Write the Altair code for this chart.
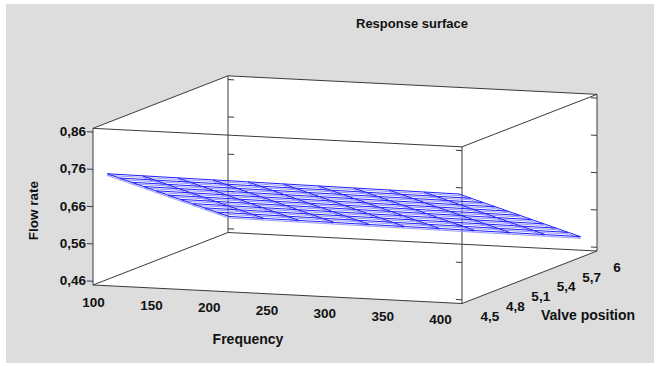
import altair as alt
import pandas as pd

# ---------------- data ----------------
frequency_ticks = [100, 150, 200, 250, 300, 350, 400]
frequency_labels = ["100", "150", "200", "250", "300", "350", "400"]
valve_ticks = [4.5, 4.8, 5.1, 5.4, 5.7, 6.0]
valve_labels = ["4,5", "4,8", "5,1", "5,4", "5,7", "6"]
flow_ticks = [0.46, 0.56, 0.66, 0.76, 0.86]
flow_labels = ["0,46", "0,56", "0,66", "0,76", "0,86"]

# response-surface mesh (rows: valve position, columns: frequency)
freq_grid = [105, 133.6, 162.2, 190.8, 219.4, 248, 276.6, 305.2, 333.8, 362.4, 391]
valve_grid = [4.59, 4.725, 4.86, 4.995, 5.13, 5.265, 5.4, 5.535, 5.67, 5.805, 5.94]
flow_rate = [
    [0.7406, 0.7399, 0.7392, 0.7385, 0.7378, 0.7371, 0.7364, 0.7357, 0.7350, 0.7343, 0.7336],
    [0.7165, 0.7158, 0.7151, 0.7144, 0.7137, 0.7130, 0.7123, 0.7116, 0.7109, 0.7102, 0.7095],
    [0.6924, 0.6917, 0.6910, 0.6903, 0.6896, 0.6889, 0.6882, 0.6875, 0.6868, 0.6861, 0.6854],
    [0.6683, 0.6676, 0.6669, 0.6662, 0.6655, 0.6648, 0.6641, 0.6634, 0.6627, 0.6620, 0.6613],
    [0.6442, 0.6435, 0.6428, 0.6421, 0.6414, 0.6407, 0.6400, 0.6393, 0.6386, 0.6379, 0.6372],
    [0.6201, 0.6194, 0.6187, 0.6180, 0.6173, 0.6166, 0.6159, 0.6152, 0.6145, 0.6138, 0.6131],
    [0.5960, 0.5953, 0.5946, 0.5939, 0.5932, 0.5925, 0.5918, 0.5911, 0.5904, 0.5897, 0.5890],
    [0.5719, 0.5712, 0.5705, 0.5698, 0.5691, 0.5684, 0.5677, 0.5670, 0.5663, 0.5656, 0.5649],
    [0.5478, 0.5471, 0.5464, 0.5457, 0.5450, 0.5443, 0.5436, 0.5429, 0.5422, 0.5415, 0.5408],
    [0.5237, 0.5230, 0.5223, 0.5216, 0.5209, 0.5202, 0.5195, 0.5188, 0.5181, 0.5174, 0.5167],
    [0.4996, 0.4989, 0.4982, 0.4975, 0.4968, 0.4961, 0.4954, 0.4947, 0.4940, 0.4933, 0.4926],
]

FREQ_RANGE = (100, 400)
VALVE_RANGE = (4.5, 6.0)
FLOW_RANGE = (0.45, 0.87)

# ---------------- oblique projection (view) ----------------
ORIGIN = (93.0, 285.0)      # projected position of the box's (100, 4.5, 0.45) corner
E_F = (1.23, 0.0617)        # screen shift per unit of frequency
E_V = (90.0, -35.0)         # screen shift per unit of valve position
E_Z = (0.0, -373.0)         # screen shift per unit of flow rate
LABEL_SHRINK = 0.94


def proj(f, v, z):
    df_, dv, dz = f - FREQ_RANGE[0], v - VALVE_RANGE[0], z - FLOW_RANGE[0]
    return (ORIGIN[0] + E_F[0] * df_ + E_V[0] * dv + E_Z[0] * dz,
            ORIGIN[1] + E_F[1] * df_ + E_V[1] * dv + E_Z[1] * dz)


F0, F1 = FREQ_RANGE
V0, V1 = VALVE_RANGE
Z0, Z1 = FLOW_RANGE

# white faces of the box (the four vertical faces)
face_rows = []
for name, (a, b) in {
    "front": ((F0, V0), (F1, V0)),
    "back": ((F0, V1), (F1, V1)),
    "left": ((F0, V0), (F0, V1)),
    "right": ((F1, V0), (F1, V1)),
}.items():
    for (f, v) in (a, b):
        x, yb = proj(f, v, Z0)
        _, yt = proj(f, v, Z1)
        face_rows.append({"face": name, "x": x, "y": yt, "y2": yb})
faces = pd.DataFrame(face_rows)

# box edges
corners = [(f, v, z) for f in (F0, F1) for v in (V0, V1) for z in (Z0, Z1)]
edge_rows = []
for i, p in enumerate(corners):
    for q in corners[i + 1:]:
        if sum(1 for k in range(3) if p[k] != q[k]) == 1:
            (x1, y1), (x2, y2) = proj(*p), proj(*q)
            edge_rows.append({"x": x1, "y": y1, "x2": x2, "y2": y2})
edges = pd.DataFrame(edge_rows)

# z ticks on the four vertical edges
tick_rows = []
TL = 5.0
for z in flow_ticks:
    for (fa, va, fb) in ((F0 - TL, V0, F0), (F0, V1, F0 + TL), (F1 - TL, V0, F1), (F1 - TL, V1, F1)):
        (x1, y1), (x2, y2) = proj(fa, va, z), proj(fb, va, z)
        tick_rows.append({"x": x1, "y": y1, "x2": x2, "y2": y2})
ticks = pd.DataFrame(tick_rows)

# mesh lines
mesh_rows = []
for i, v in enumerate(valve_grid):
    for j, f in enumerate(freq_grid):
        x, y = proj(f, v, flow_rate[i][j])
        mesh_rows.append({"line": f"v{i}", "o": j, "x": x, "y": y})
for j, f in enumerate(freq_grid):
    for i, v in enumerate(valve_grid):
        x, y = proj(f, v, flow_rate[i][j])
        mesh_rows.append({"line": f"f{j}", "o": i, "x": x, "y": y})
mesh = pd.DataFrame(mesh_rows)

# labels
text_rows = []
for z, lab in zip(flow_ticks, flow_labels):
    x, y = proj(F0, V0, z)
    text_rows.append({"x": x - 7, "y": y, "t": lab, "g": "zt"})
for f, lab in zip(frequency_ticks, frequency_labels):
    x, y = proj(F0 + (f - F0) * LABEL_SHRINK, V0, Z0)
    text_rows.append({"x": x + 0.6, "y": y + 17.7, "t": lab, "g": "ft"})
for v, lab in zip(valve_ticks, valve_labels):
    x, y = proj(F1, V0 + (v - V0) * LABEL_SHRINK, Z0)
    text_rows.append({"x": x + 28, "y": y + 13.5, "t": lab, "g": "vt"})
labels = pd.DataFrame(text_rows)

fx, fy = proj(250, V0, Z0)
vx, vy = proj(F1, V0, Z0)
zx, zy = proj(F0, V0, 0.66)
titles = pd.DataFrame([
    {"x": fx - 29.5, "y": fy + 45.7, "t": "Frequency"},
    {"x": vx + 126, "y": vy + 12.5, "t": "Valve position"},
])
ztitle = pd.DataFrame([{"x": zx - 59, "y": zy + 4, "t": "Flow rate"}])
main_title = pd.DataFrame([{"x": 412, "y": 24, "t": "Response surface"}])

# ---------------- chart ----------------
XS = alt.Scale(domain=[6, 654], nice=False, zero=False)
YS = alt.Scale(domain=[4, 363], nice=False, zero=False, reverse=True)
X = alt.X("x:Q", scale=XS, axis=None)
Y = alt.Y("y:Q", scale=YS, axis=None, stack=None)
FONT = "Liberation Sans"

face_layer = alt.Chart(faces).mark_area(color="white", opacity=1, interpolate="linear").encode(
    x=X, y=Y, y2="y2:Q", detail="face:N")
edge_layer = alt.Chart(edges).mark_rule(color="#3a3a3a", strokeWidth=1).encode(
    x=X, y=Y, x2="x2:Q", y2="y2:Q")
tick_layer = alt.Chart(ticks).mark_rule(color="#3a3a3a", strokeWidth=1).encode(
    x=X, y=Y, x2="x2:Q", y2="y2:Q")
mesh_light = alt.Chart(mesh).mark_line(color="#9a9aff", strokeWidth=1, yOffset=1.6).encode(
    x=X, y=Y, detail="line:N", order="o:Q")
mesh_dark = alt.Chart(mesh).mark_line(color="#2020ff", strokeWidth=1).encode(
    x=X, y=Y, detail="line:N", order="o:Q")

zt = alt.Chart(labels[labels.g == "zt"]).mark_text(
    font=FONT, fontWeight="bold", fontSize=13.5, align="right", baseline="middle", color="#111111"
).encode(x=X, y=Y, text="t:N")
other_ticks = alt.Chart(labels[labels.g != "zt"]).mark_text(
    font=FONT, fontWeight="bold", fontSize=13.5, align="center", baseline="middle", color="#111111"
).encode(x=X, y=Y, text="t:N")
title_layer = alt.Chart(titles).mark_text(
    font=FONT, fontWeight="bold", fontSize=14, align="center", baseline="middle", color="#111111"
).encode(x=X, y=Y, text="t:N")
ztitle_layer = alt.Chart(ztitle).mark_text(
    font=FONT, fontWeight="bold", fontSize=13.5, align="center", baseline="middle", angle=270,
    color="#111111"
).encode(x=X, y=Y, text="t:N")
main_layer = alt.Chart(main_title).mark_text(
    font=FONT, fontWeight="bold", fontSize=13, align="center", baseline="middle", color="#111111"
).encode(x=X, y=Y, text="t:N")

chart = alt.layer(
    face_layer, edge_layer, tick_layer, mesh_light, mesh_dark,
    zt, other_ticks, title_layer, ztitle_layer, main_layer
).properties(
    width=648, height=359,
    padding={"left": 6, "top": 4, "right": 7, "bottom": 3},
    autosize=alt.AutoSizeParams(type="none"),
    background="white",
).configure_view(strokeWidth=0, fill="#dddddd")

chart.save("out.html", embed_options={"renderer": "svg", "actions": False})
